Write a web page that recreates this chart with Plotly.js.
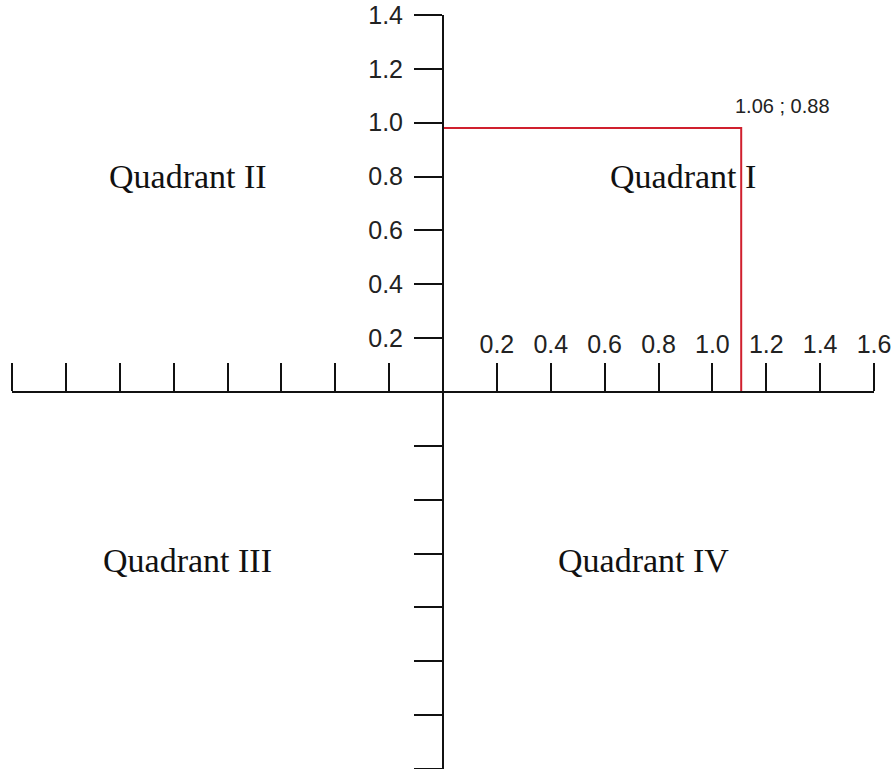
<!DOCTYPE html>
<html>
<head>
<meta charset="utf-8">
<script src="https://cdn.plot.ly/plotly-3.0.1.min.js"></script>
<style>
  html, body { margin: 0; padding: 0; background: #fff; }
  #chart { width: 894px; height: 769px; }
</style>
</head>
<body>
<div id="chart"></div>
<script>
// tick values for both axes (negatives get no label)
var xTicks = [-1.6, -1.4, -1.2, -1.0, -0.8, -0.6, -0.4, -0.2, 0.2, 0.4, 0.6, 0.8, 1.0, 1.2, 1.4, 1.6];
var yTicks = [-1.4, -1.2, -1.0, -0.8, -0.6, -0.4, -0.2, 0.2, 0.4, 0.6, 0.8, 1.0, 1.2, 1.4];
var tickLabel = function (v) { return v > 0 ? v.toFixed(1) : ''; };

// the marked point (as drawn) and its label
var pointX = [1.107];
var pointY = [0.98];
var pointLabel = ['1.06 ; 0.88'];

var quadrantNames = ['Quadrant I', 'Quadrant II', 'Quadrant III', 'Quadrant IV'];

var guide = {
  x: [0, pointX[0], pointX[0]],
  y: [pointY[0], pointY[0], 0],
  mode: 'lines',
  line: { color: '#d0202e', width: 2 },
  hoverinfo: 'skip',
  showlegend: false
};

var qFont = { family: 'Liberation Serif, Times New Roman, serif', size: 34, color: '#111' };
var qPos = [[0.89, 0.80], [-0.947, 0.80], [-0.947, -0.624], [0.743, -0.624]];
var annotations = quadrantNames.map(function (name, i) {
  return { x: qPos[i][0], y: qPos[i][1], xref: 'x', yref: 'y', text: name,
           showarrow: false, font: qFont };
});
annotations.push({
  x: pointX[0], y: pointY[0], xref: 'x', yref: 'y', text: pointLabel[0],
  xanchor: 'left', yanchor: 'bottom', xshift: -8, yshift: 9, showarrow: false,
  font: { family: 'Liberation Sans, Arial, sans-serif', size: 20, color: '#222' }
});

var tickFont = { family: 'Liberation Sans, Arial, sans-serif', size: 25, color: '#222' };

var layout = {
  width: 894,
  height: 769,
  margin: { l: 12, r: 20, t: 15, b: 0 },
  paper_bgcolor: '#fff',
  plot_bgcolor: '#fff',
  showlegend: false,
  xaxis: {
    range: [-1.6, 1.6],
    anchor: 'free', position: 0.5, side: 'top',
    showgrid: false, zeroline: false,
    showline: true, linecolor: '#111', linewidth: 2,
    ticks: 'outside', ticklen: 28, tickwidth: 2, tickcolor: '#111',
    tickvals: xTicks, ticktext: xTicks.map(tickLabel),
    ticklabelstandoff: 0,
    tickfont: tickFont
  },
  yaxis: {
    range: [-1.4, 1.4],
    anchor: 'free', position: 0.5, side: 'left',
    showgrid: false, zeroline: false,
    showline: true, linecolor: '#111', linewidth: 2,
    ticks: 'outside', ticklen: 28, tickwidth: 2, tickcolor: '#111',
    tickvals: yTicks, ticktext: yTicks.map(tickLabel),
    ticklabelstandoff: 6,
    tickfont: tickFont
  },
  annotations: annotations
};

Plotly.newPlot('chart', [guide], layout, { staticPlot: true });
</script>
</body>
</html>
